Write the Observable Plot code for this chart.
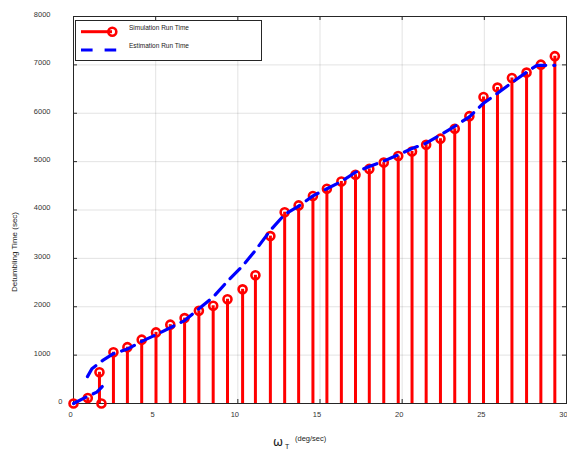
<!DOCTYPE html>
<html><head><meta charset="utf-8">
<script src="https://cdn.jsdelivr.net/npm/d3@7"></script>
<script src="https://cdn.jsdelivr.net/npm/@observablehq/plot@0.6"></script>
<style>
html,body{margin:0;padding:0;background:#fff;}
svg{display:block;}
</style>
</head><body><div id="chart"></div>
<script>
// ---- data ----
const simX = [0, 0.87, 1.58, 1.70, 2.43, 3.28, 4.15, 5.02, 5.89, 6.76, 7.63, 8.5, 9.37, 10.29, 11.07, 11.98, 12.85, 13.7, 14.57, 15.42, 16.3, 17.16, 18.0, 18.88, 19.76, 20.6, 21.46, 22.33, 23.2, 24.09, 24.95, 25.8, 26.68, 27.57, 28.44, 29.29];
const simY = [0, 115, 645, 0, 1060, 1165, 1320, 1470, 1630, 1765, 1915, 2020, 2155, 2360, 2650, 3460, 3955, 4095, 4290, 4440, 4590, 4730, 4850, 4980, 5115, 5210, 5350, 5475, 5680, 5940, 6335, 6530, 6730, 6840, 7005, 7180];
const estX = [0, 0.87, 1.42, 1.75, 0.85, 1.12, 1.78, 2.43, 3.28, 4.15, 5.02, 5.89, 6.76, 7.63, 8.5, 9.37, 10.29, 11.07, 11.98, 12.85, 13.7, 14.57, 15.42, 16.3, 17.16, 18.0, 18.88, 19.76, 20.6, 21.46, 22.33, 23.2, 24.09, 24.95, 25.8, 26.68, 27.57, 28.2, 29.29];
const estY = [0, 150, 235, 350, 555, 720, 890, 1030, 1125, 1285, 1420, 1566, 1714, 1957, 2200, 2527, 2843, 3166, 3578, 3909, 4080, 4292, 4440, 4590, 4780, 4900, 5010, 5140, 5270, 5380, 5555, 5731, 5926, 6207, 6412, 6635, 6850, 6990, 6990];
const estSeg = [1, 1, 1, 1, 2, 2, 2, 2, 2, 2, 2, 2, 2, 2, 2, 2, 2, 2, 2, 2, 2, 2, 2, 2, 2, 2, 2, 2, 2, 2, 2, 2, 2, 2, 2, 2, 2, 2, 2];
const xTicks = [0, 5, 10, 15, 20, 25, 30];
const yTicks = [0, 1000, 2000, 3000, 4000, 5000, 6000, 7000, 8000];
const seriesNames = ["Simulation Run Time", "Estimation Run Time"];
const yLabel = "Detumbling Time (sec)";
const xLabelSymbol = "ω";
const xLabelSub = "T";
const xLabelUnit = "(deg/sec)";

// ---- build ----
const sim = simX.map((x, i) => ({x, y: simY[i]}));
const est = estX.map((x, i) => ({x, y: estY[i], seg: estSeg[i]}));

const RED = "#ff0000", BLUE = "#0000ff", AX = "#262626";
const W = 567, H = 449, mL = 73, mR = 1, mT = 16, mB = 46;
const innerH = H - mT - mB, innerW = W - mL - mR;
const T = 4;
const fmt = d3.format("d");

const plot = Plot.plot({
  width: W, height: H,
  marginLeft: mL, marginRight: mR, marginTop: mT, marginBottom: mB,
  style: {fontFamily: "'Liberation Sans', Arial, sans-serif", fontSize: "7.5px", background: "#fff", color: AX, overflow: "visible"},
  x: {domain: [0, 30], label: null},
  y: {domain: [0, 8000], label: null},
  marks: [
    Plot.gridX(xTicks, {stroke: AX, strokeOpacity: 0.13}),
    Plot.gridY(yTicks, {stroke: AX, strokeOpacity: 0.13}),
    Plot.frame({stroke: AX, strokeWidth: 1}),
    // inward ticks
    Plot.tickX(xTicks, {x: d => d, stroke: AX, insetTop: innerH - T}),
    Plot.tickX(xTicks, {x: d => d, stroke: AX, insetBottom: innerH - T}),
    Plot.tickY(yTicks, {y: d => d, stroke: AX, insetLeft: innerW - T}),
    Plot.tickY(yTicks, {y: d => d, stroke: AX, insetRight: innerW - T}),
    // tick labels
    Plot.axisX(xTicks, {anchor: "bottom", tickSize: 0, tickPadding: 8, dx: -3, fill: "#333", tickFormat: fmt, label: null}),
    Plot.axisY(yTicks.filter(d => d !== 0), {anchor: "left", tickSize: 0, tickPadding: 23, dy: -2, fill: "#333", tickFormat: fmt, label: null}),
    Plot.axisY(yTicks.filter(d => d === 0), {anchor: "left", tickSize: 0, tickPadding: 11, dy: -2, fill: "#333", tickFormat: fmt, label: null}),
    // simulation stems
    Plot.ruleX(sim, {x: "x", y1: 0, y2: "y", stroke: RED, strokeWidth: 3}),
    Plot.dot(sim, {x: "x", y: "y", r: 4, stroke: RED, strokeWidth: 2.6, fill: "none"}),
    // estimation
    Plot.line(est, {x: "x", y: "y", z: "seg", stroke: BLUE, strokeWidth: 3.2, strokeDasharray: "14,8", curve: "linear"})
  ]
});

const svg = d3.select(plot);

// legend
const lg = svg.append("g").attr("text-anchor", "start");
lg.append("rect").attr("x", 75.5).attr("y", 20.5).attr("width", 186).attr("height", 40)
  .attr("fill", "#fff").attr("stroke", AX).attr("stroke-width", 1);
lg.append("line").attr("x1", 81).attr("x2", 112).attr("y1", 31.7).attr("y2", 31.7)
  .attr("stroke", RED).attr("stroke-width", 3);
lg.append("circle").attr("cx", 112.3).attr("cy", 31.7).attr("r", 4)
  .attr("fill", "none").attr("stroke", RED).attr("stroke-width", 2.6);
lg.append("line").attr("x1", 81).attr("x2", 117).attr("y1", 50).attr("y2", 50)
  .attr("stroke", BLUE).attr("stroke-width", 3.2).attr("stroke-dasharray", "11.6,12");
lg.append("text").attr("x", 129).attr("y", 27.5).attr("dy", "0.35em").attr("text-anchor", "start")
  .attr("font-size", "6.5px").attr("fill", "#222").text(seriesNames[0]);
lg.append("text").attr("x", 129).attr("y", 45.5).attr("dy", "0.35em").attr("text-anchor", "start")
  .attr("font-size", "6.5px").attr("fill", "#222").text(seriesNames[1]);

// y label
svg.append("text").attr("transform", "translate(14,252) rotate(-90)")
  .attr("text-anchor", "middle").attr("dy", "0.35em")
  .attr("font-size", "8px").attr("fill", "#222").text(yLabel);

// x label
svg.append("text").attr("x", 273).attr("y", 446).attr("text-anchor", "start")
  .attr("font-size", "12px").attr("font-family", "'DejaVu Sans', sans-serif").attr("fill", "#222").text(xLabelSymbol);
svg.append("text").attr("x", 285).attr("y", 449).attr("text-anchor", "start")
  .attr("font-size", "7px").attr("fill", "#222").text(xLabelSub);
svg.append("text").attr("x", 295).attr("y", 438).attr("dy", "0.35em").attr("text-anchor", "start")
  .attr("font-size", "7.5px").attr("fill", "#222").text(xLabelUnit);

document.getElementById("chart").appendChild(plot);
</script>
</body></html>
